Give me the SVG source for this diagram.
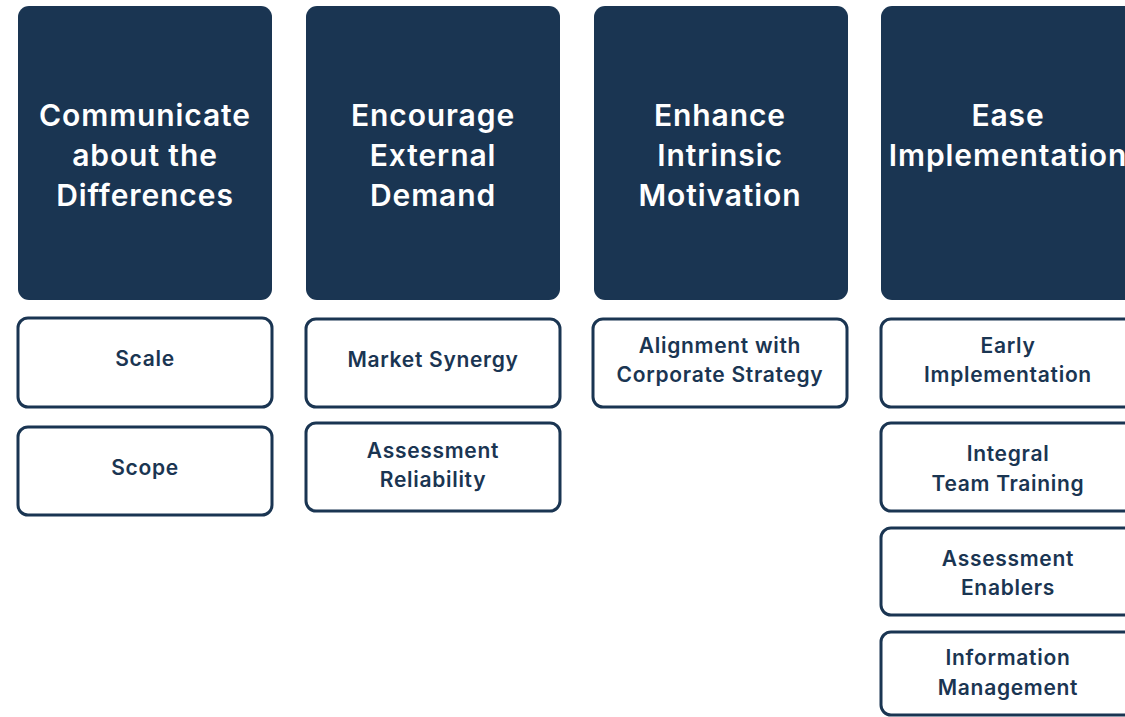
<svg xmlns="http://www.w3.org/2000/svg" width="1125" height="717" viewBox="0 0 1125 717">
<style>
.hdr{fill:#1a3552;}
.sub{fill:#ffffff;stroke:#1a3552;stroke-width:3;}
.ht{font-family:Inter,"Liberation Sans",sans-serif;font-size:30px;font-weight:600;letter-spacing:0.9px;fill:#ffffff;text-anchor:middle;}
.st{font-family:Inter,"Liberation Sans",sans-serif;font-size:21px;font-weight:600;letter-spacing:0.7px;fill:#1a3552;text-anchor:middle;}
</style>
<rect width="1125" height="717" fill="#ffffff"/>
<g id="col1">
<g id="h1"><rect class="hdr" x="18" y="6" width="254" height="294" rx="11"/>
<text class="ht" x="145" y="126">Communicate</text><text class="ht" x="145" y="166">about the</text><text class="ht" x="145" y="206">Differences</text></g>
<g id="n-scale"><rect class="sub" x="18" y="318" width="254" height="89" rx="10"/><text class="st" x="145" y="366">Scale</text></g>
<g id="n-scope"><rect class="sub" x="18" y="427" width="254" height="88" rx="10"/><text class="st" x="145" y="475">Scope</text></g>
</g>
<g id="col2">
<g id="h2"><rect class="hdr" x="306" y="6" width="254" height="294" rx="11"/>
<text class="ht" x="433" y="126">Encourage</text><text class="ht" x="433" y="166">External</text><text class="ht" x="433" y="206">Demand</text></g>
<g id="n-market"><rect class="sub" x="306" y="319" width="254" height="88" rx="10"/><text class="st" x="433" y="367">Market Synergy</text></g>
<g id="n-reliab"><rect class="sub" x="306" y="423" width="254" height="88" rx="10"/><text class="st" x="433" y="458">Assessment</text><text class="st" x="433" y="487">Reliability</text></g>
</g>
<g id="col3">
<g id="h3"><rect class="hdr" x="594" y="6" width="254" height="294" rx="11"/>
<text class="ht" x="720" y="126">Enhance</text><text class="ht" x="720" y="166">Intrinsic</text><text class="ht" x="720" y="206">Motivation</text></g>
<g id="n-align"><rect class="sub" x="593" y="319" width="254" height="88" rx="10"/><text class="st" x="720" y="353">Alignment with</text><text class="st" x="720" y="382">Corporate Strategy</text></g>
</g>
<g id="col4">
<g id="h4"><rect class="hdr" x="881" y="6" width="254" height="294" rx="11"/>
<text class="ht" x="1008" y="126">Ease</text><text class="ht" x="1008" y="166">Implementation</text></g>
<g id="n-early"><rect class="sub" x="881" y="319" width="254" height="88" rx="10"/><text class="st" x="1008" y="353">Early</text><text class="st" x="1008" y="382">Implementation</text></g>
<g id="n-train"><rect class="sub" x="881" y="423" width="254" height="88" rx="10"/><text class="st" x="1008" y="461">Integral</text><text class="st" x="1008" y="491">Team Training</text></g>
<g id="n-enab"><rect class="sub" x="881" y="528" width="254" height="87" rx="10"/><text class="st" x="1008" y="566">Assessment</text><text class="st" x="1008" y="595">Enablers</text></g>
<g id="n-info"><rect class="sub" x="881" y="632" width="254" height="83" rx="10"/><text class="st" x="1008" y="665">Information</text><text class="st" x="1008" y="695">Management</text></g>
</g>
<g id="connectors"/>
</svg>
